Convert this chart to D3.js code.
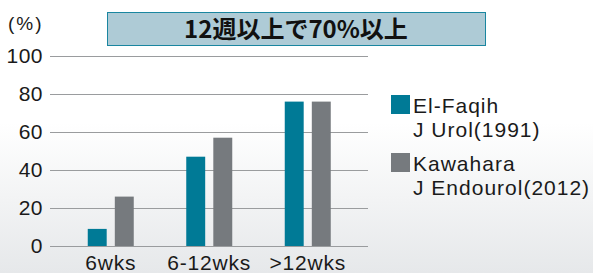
<!DOCTYPE html>
<html>
<head>
<meta charset="utf-8">
<script src="https://cdn.jsdelivr.net/npm/d3@7"></script>
<style>
  body { margin: 0; }
  svg { display: block; }
</style>
</head>
<body>
<svg id="chart" width="593" height="273"></svg>
<script>
// data
let categories = ['6wks', '6-12wks', '>12wks'];
let series = ['El-Faqih', 'Kawahara'];
let elFaqih = [9, 47, 76];
let kawahara = [26, 57, 76];
let yTicks = [0, 20, 40, 60, 80, 100];
let legendLines = [
  ['El-Faqih', 'J Urol(1991)'],
  ['Kawahara', 'J Endourol(2012)']
];
let colors = ['#007a96', '#767a7e'];

let font = '"Liberation Sans", "Noto Sans CJK JP", sans-serif';

let svg = d3.select('#chart'),
    width = +svg.attr('width'),
    height = +svg.attr('height');

// soft grey fade at the bottom
let defs = svg.append('defs');
let grad = defs.append('linearGradient')
  .attr('id', 'bg')
  .attr('x1', 0).attr('y1', 0).attr('x2', 0).attr('y2', 1);
grad.append('stop').attr('offset', '0%').attr('stop-color', '#ffffff');
grad.append('stop').attr('offset', '45%').attr('stop-color', '#ffffff');
grad.append('stop').attr('offset', '100%').attr('stop-color', '#e6e8ea');

svg.append('rect')
  .attr('width', width)
  .attr('height', height)
  .attr('fill', 'url(#bg)');

let y = d3.scaleLinear()
  .domain([0, 100])
  .range([246, 56]);

let x0 = d3.scaleBand()
  .domain(categories)
  .range([61.5, 357]);

let x1 = d3.scaleBand()
  .domain(series)
  .range([0, 46])
  .paddingInner(0.3);

// gridlines
svg.append('g')
  .selectAll('line')
  .data(yTicks)
  .enter().append('line')
  .attr('x1', 50)
  .attr('x2', 368)
  .attr('y1', d => y(d) + 0.5)
  .attr('y2', d => y(d) + 0.5)
  .attr('stroke', '#9a9c9e')
  .attr('stroke-width', 1.2);

// y tick labels
svg.append('g')
  .selectAll('text')
  .data(yTicks)
  .enter().append('text')
  .text(d => d)
  .attr('x', 43)
  .attr('y', d => y(d) + 7)
  .attr('text-anchor', 'end')
  .attr('font-family', font)
  .attr('font-size', 21)
  .attr('letter-spacing', 0.5)
  .attr('fill', '#1a1a1a');

svg.append('text')
  .text('(%)')
  .attr('x', 8)
  .attr('y', 30)
  .attr('font-family', font)
  .attr('font-size', 19)
  .attr('letter-spacing', 2)
  .attr('fill', '#1a1a1a');

// bars
let rows = categories.map((c, i) => ({ cat: c, values: [elFaqih[i], kawahara[i]] }));

let groups = svg.append('g')
  .selectAll('g')
  .data(rows)
  .enter().append('g')
  .attr('transform', d => `translate(${x0(d.cat) + (x0.bandwidth() - 46) / 2},0)`);

groups.selectAll('rect')
  .data(d => d.values.map((v, i) => ({ s: series[i], v: v, i: i })))
  .enter().append('rect')
  .attr('x', d => x1(d.s))
  .attr('width', x1.bandwidth())
  .attr('y', d => y(d.v))
  .attr('height', d => y(0) - y(d.v))
  .attr('fill', d => colors[d.i]);

// category labels
svg.append('g')
  .selectAll('text')
  .data(categories)
  .enter().append('text')
  .text(d => d)
  .attr('x', d => x0(d) + x0.bandwidth() / 2)
  .attr('y', 270)
  .attr('text-anchor', 'middle')
  .attr('font-family', font)
  .attr('font-size', 21)
  .attr('letter-spacing', 0.8)
  .attr('fill', '#1a1a1a');

// title box
svg.append('rect')
  .attr('x', 107.5)
  .attr('y', 12.5)
  .attr('width', 378)
  .attr('height', 33)
  .attr('fill', '#aecbd6')
  .attr('stroke', '#1a86a0')
  .attr('stroke-width', 1);

svg.append('text')
  .text('12週以上で70%以上')
  .attr('x', 296)
  .attr('y', 37.5)
  .attr('text-anchor', 'middle')
  .attr('font-family', '"Noto Sans CJK JP", sans-serif')
  .attr('font-weight', 'bold')
  .attr('font-size', 24)
  .attr('fill', '#111');

// legend
let legend = svg.append('g')
  .selectAll('g')
  .data(legendLines)
  .enter().append('g')
  .attr('transform', (d, i) => `translate(391,${95 + i * 58})`);

legend.append('rect')
  .attr('width', 19)
  .attr('height', 19)
  .attr('fill', (d, i) => colors[i]);

legend.append('text')
  .attr('x', 22)
  .attr('y', 18)
  .attr('font-family', font)
  .attr('font-size', 21)
  .attr('letter-spacing', 1)
  .attr('fill', '#1a1a1a')
  .selectAll('tspan')
  .data(d => d)
  .enter().append('tspan')
  .attr('x', 22)
  .attr('dy', (d, i) => i === 0 ? 0 : 24)
  .text(d => d);
</script>
</body>
</html>
